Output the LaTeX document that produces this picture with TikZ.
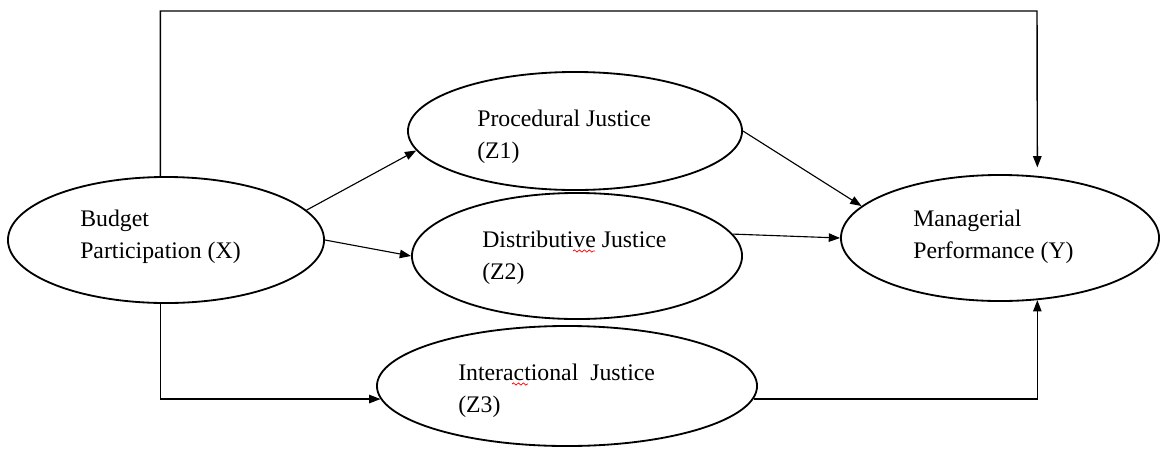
\documentclass[tikz,border=0pt]{standalone}
\usepackage{fontspec}
\setmainfont{Liberation Serif}
\usetikzlibrary{arrows.meta,shapes.geometric,decorations.pathmorphing}

\tikzset{
  construct/.style = {draw, ellipse, line width=1.3pt, inner sep=0pt},
  construct text/.style = {anchor=base west, inner sep=0pt, align=left,
                           font=\fontsize{16.9}{22.5}\selectfont},
  path arrow/.style = {-{Triangle[length=8pt,width=6pt]}, line width=0.8pt},
  spell wave/.style = {red, line width=0.5pt, decorate,
                       decoration={snake, amplitude=0.8pt, segment length=3.5pt}},
}

\begin{document}
\begin{tikzpicture}[x=0.025cm, y=-0.025cm]

\useasboundingbox ( 0, 0 ) rectangle ( 1168, 448 );

% Constructs
\node (bp) at ( 166, 240 ) [construct, minimum width=7.9cm, minimum height=3.15cm] {};
\node (pj) at ( 575, 131 ) [construct, minimum width=8.35cm, minimum height=2.95cm] {};
\node (dj) at ( 577, 256 ) [construct, minimum width=8.25cm, minimum height=3.15cm] {};
\node (ij) at ( 567, 386 ) [construct, minimum width=9.5cm, minimum height=3cm] {};
\node (mp) at ( 1000, 238 ) [construct, minimum width=7.95cm, minimum height=3.15cm] {};

% Labels (anchored on the baseline of the last line)
\node (bp text) at ( 80, 258 ) [construct text] {Budget\\Participation (X)};
\node (pj text) at ( 477, 158 ) [construct text] {Procedural Justice\\(Z1)};
\node (dj text) at ( 482, 279 ) [construct text] {Distributive Justice\\(Z2)};
\node (ij text) at ( 458, 412 ) [construct text] {Interactional\ \ Justice\\(Z3)};
\node (mp text) at ( 913, 258 ) [construct text] {Managerial\\Performance (Y)};

% Spell-check marks
\draw [spell wave] ( 573, 251 ) -- ++( 22, 0 );
\draw [spell wave] ( 512, 384 ) -- ++( 16, 0 );

% Direct path over the top
\coordinate (top) at ( 1037, 11 );
\draw [path arrow, line width=1pt, shorten >=6pt] (bp.95) |- (top) -- (mp.59);

% Paths through the justice constructs
\draw [path arrow] (bp.12) -- (pj.187);
\draw [path arrow] (bp.east) -- (dj.west);
\draw [path arrow] (bp.265) |- (ij.184);

\draw [path arrow] (pj.east) -- (mp.167);
\draw [path arrow] (dj.8) -- (mp.west);
\draw [path arrow] (ij.356) -| (mp.301);

\end{tikzpicture}
\end{document}
